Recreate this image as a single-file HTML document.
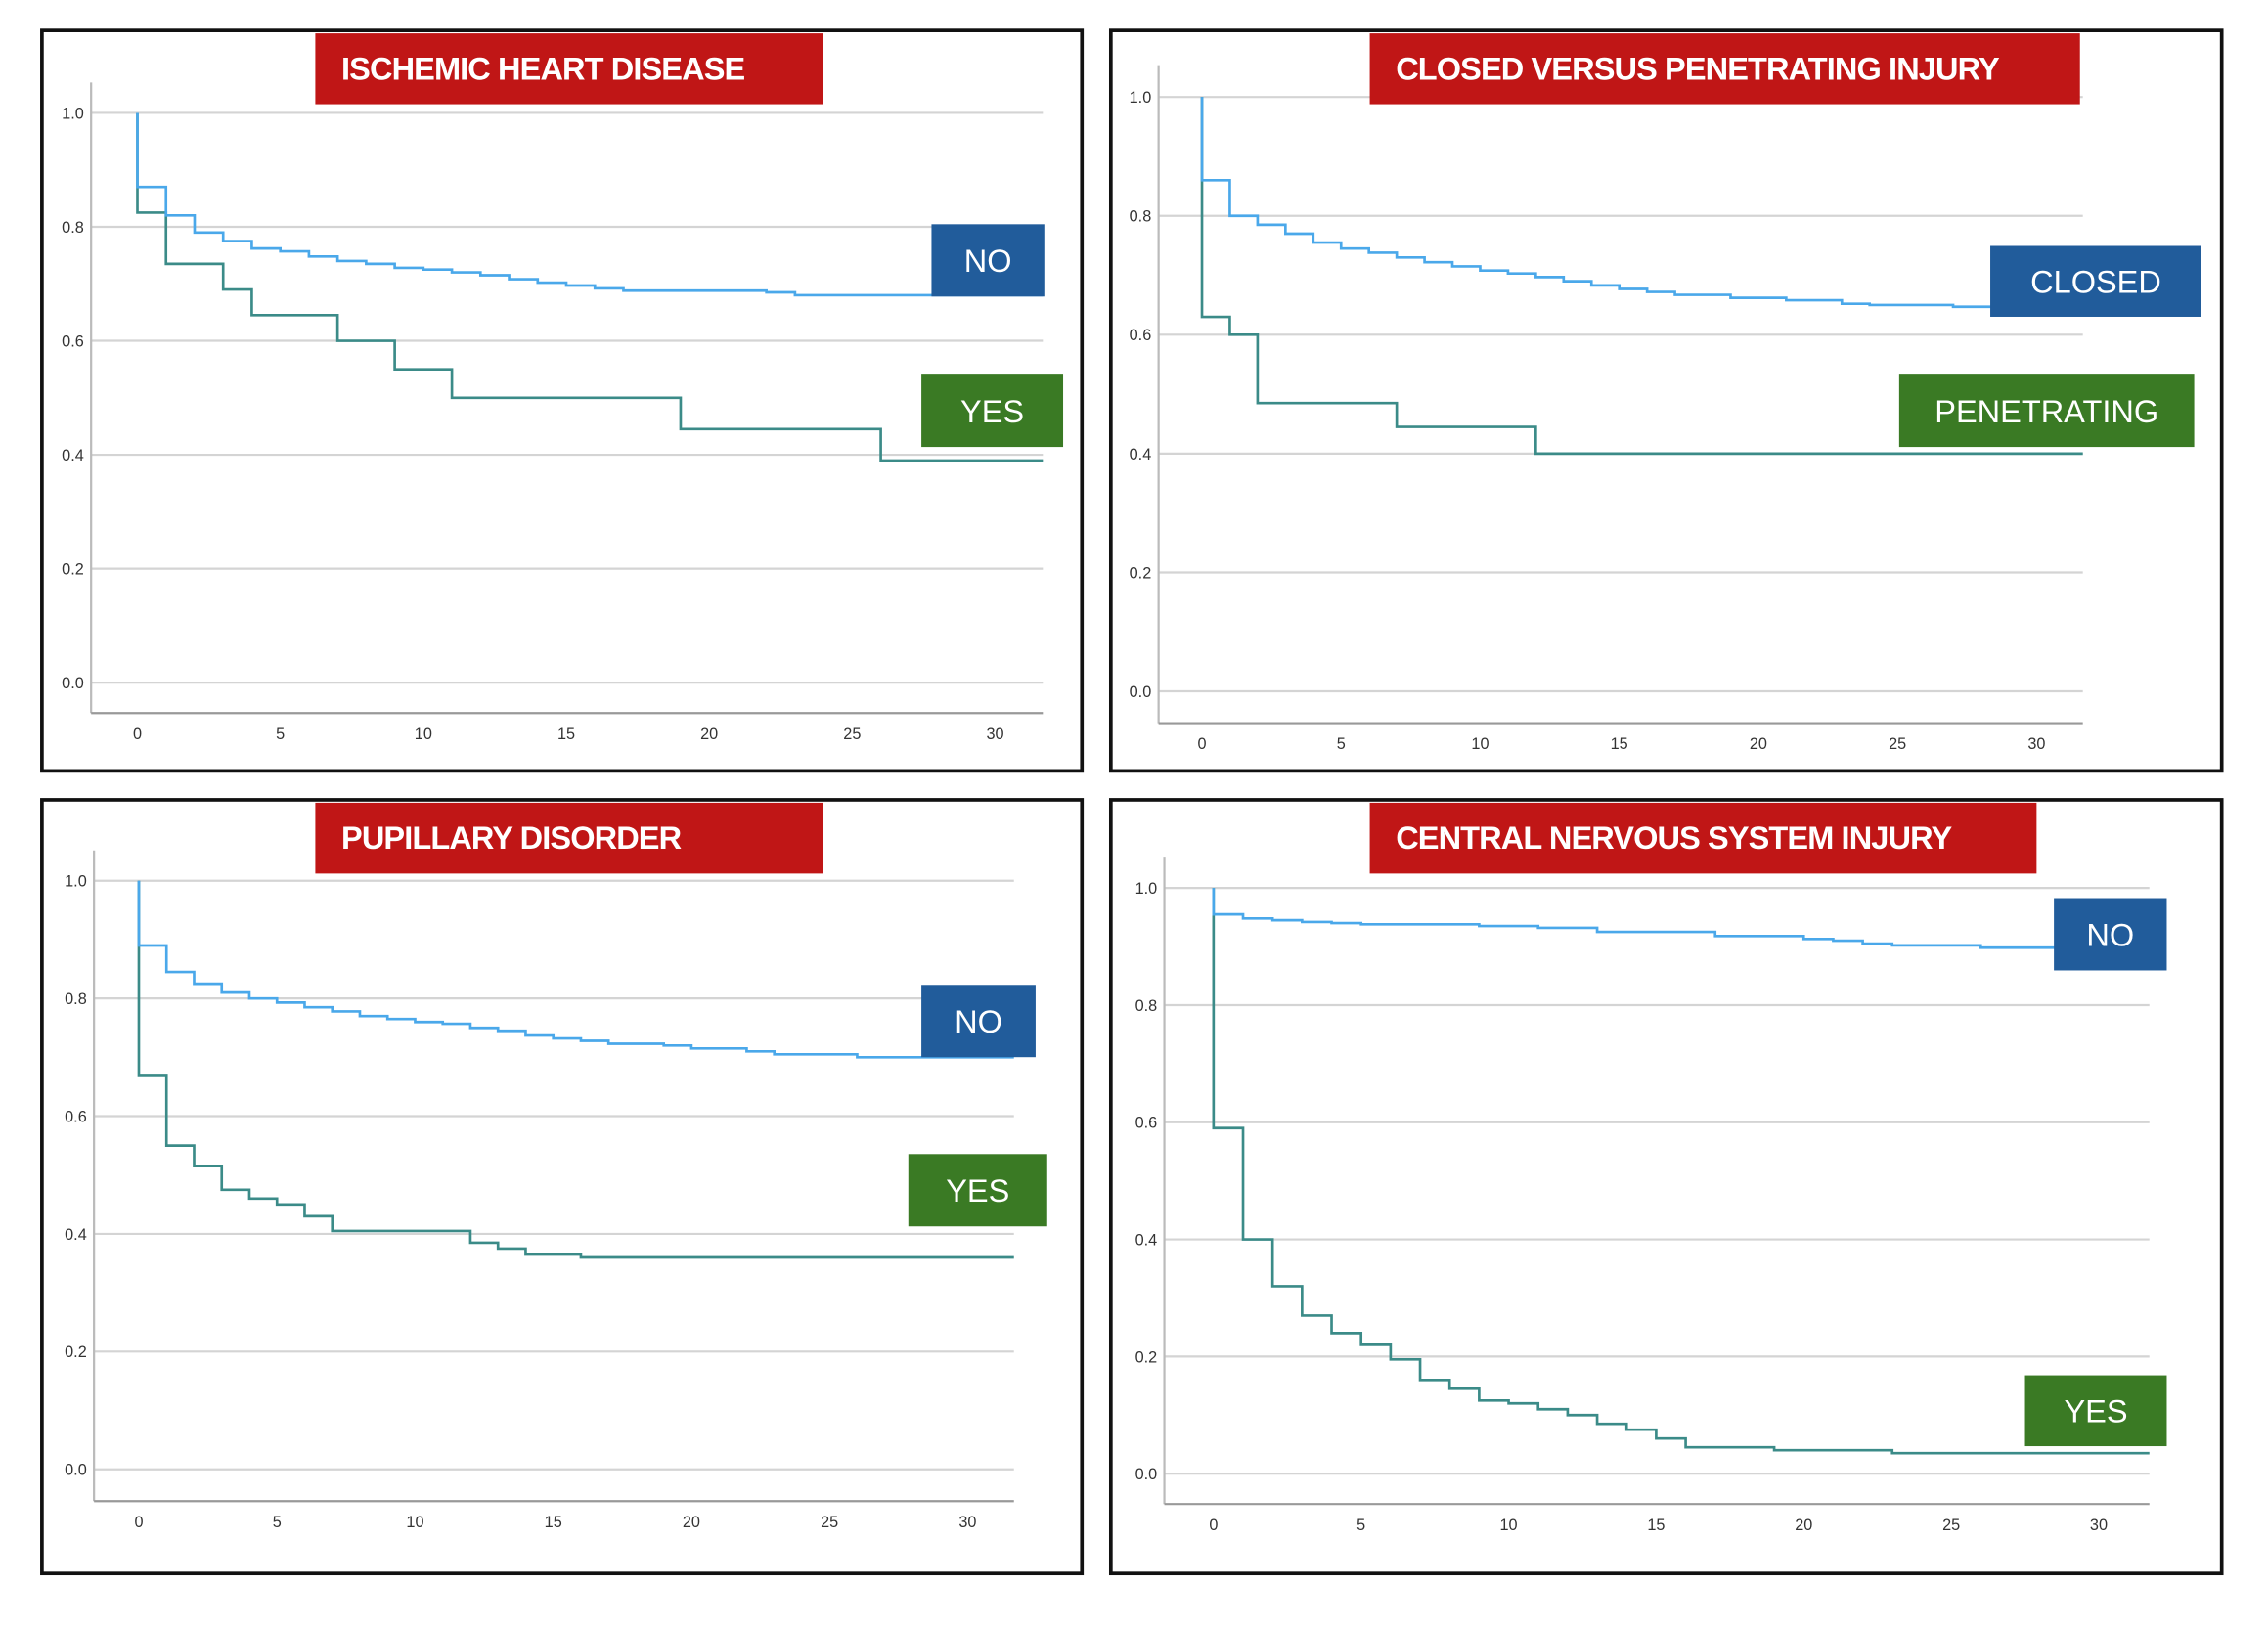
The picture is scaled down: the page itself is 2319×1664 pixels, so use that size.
<!DOCTYPE html>
<html><head><meta charset="utf-8"><style>
html,body{margin:0;padding:0;background:#fff}
svg{display:block}
text{font-family:"Liberation Sans",sans-serif}
</style></head><body>
<svg id="chart" width="2319" height="1664" viewBox="0 0 1568 1125" xmlns="http://www.w3.org/2000/svg"></svg>
<script>
// ---- data ----
const xTicks = [0,5,10,15,20,25,30];
const yTicks = [0.0,0.2,0.4,0.6,0.8,1.0];
const yTickLabels = ["0.0","0.2","0.4","0.6","0.8","1.0"];
const titles = ["ISCHEMIC HEART DISEASE","CLOSED VERSUS PENETRATING INJURY","PUPILLARY DISORDER","CENTRAL NERVOUS SYSTEM INJURY"];
const labelsA = ["NO","CLOSED","NO","NO"];
const labelsB = ["YES","PENETRATING","YES","YES"];
const p1NoT = [0,1,2,3,4,5,6,7,8,9,10,11,12,13,14,15,16,17,22,23];
const p1NoS = [0.87,0.82,0.79,0.775,0.762,0.757,0.748,0.74,0.735,0.728,0.725,0.72,0.715,0.708,0.702,0.697,0.692,0.688,0.685,0.68];
const p1YesT = [0,1,3,4,7,9,11,19,26];
const p1YesS = [0.825,0.735,0.69,0.645,0.6,0.55,0.5,0.445,0.39];
const p2NoT = [0,1,2,3,4,5,6,7,8,9,10,11,12,13,14,15,16,17,19,21,23,24,27];
const p2NoS = [0.86,0.80,0.785,0.77,0.755,0.745,0.738,0.73,0.722,0.715,0.708,0.703,0.697,0.69,0.683,0.677,0.672,0.667,0.662,0.658,0.652,0.65,0.647];
const p2YesT = [0,1,2,7,12];
const p2YesS = [0.63,0.6,0.485,0.445,0.40];
const p3NoT = [0,1,2,3,4,5,6,7,8,9,10,11,12,13,14,15,16,17,19,20,22,23,26];
const p3NoS = [0.89,0.845,0.825,0.81,0.8,0.793,0.785,0.778,0.77,0.765,0.76,0.757,0.75,0.745,0.737,0.732,0.728,0.723,0.72,0.715,0.71,0.705,0.70];
const p3YesT = [0,1,2,3,4,5,6,7,12,13,14,16];
const p3YesS = [0.67,0.55,0.515,0.475,0.46,0.45,0.43,0.405,0.385,0.375,0.365,0.36];
const p4NoT = [0,1,2,3,4,5,9,11,13,17,20,21,22,23,26];
const p4NoS = [0.955,0.948,0.945,0.942,0.94,0.938,0.935,0.932,0.925,0.918,0.913,0.91,0.905,0.902,0.898];
const p4YesT = [0,1,2,3,4,5,6,7,8,9,10,11,12,13,14,15,16,19,23];
const p4YesS = [0.59,0.4,0.32,0.27,0.24,0.22,0.195,0.16,0.145,0.125,0.12,0.11,0.1,0.085,0.075,0.06,0.045,0.04,0.035];
const seriesNoT=[p1NoT,p2NoT,p3NoT,p4NoT], seriesNoS=[p1NoS,p2NoS,p3NoS,p4NoS];
const seriesYesT=[p1YesT,p2YesT,p3YesT,p4YesT], seriesYesS=[p1YesS,p2YesS,p3YesS,p4YesS];

// ---- layout (display units) ----
const panels=[
 {fx:29,fy:21,fw:719,fh:512,tx:218,tw:351,ax:63,aTop:57,gEnd:721,y1:78,y0:472,xAxisY:493,x0:95,x30:688,
  a:[644,155,78,50],b:[637,259,98,50]},
 {fx:768,fy:21,fw:768,fh:512,tx:947,tw:491,ax:801,aTop:45,gEnd:1440,y1:67,y0:478,xAxisY:500,x0:831,x30:1408,
  a:[1376,170,146,49],b:[1313,259,204,50]},
 {fx:29,fy:553,fw:719,fh:535,tx:218,tw:351,ax:65,aTop:588,gEnd:701,y1:609,y0:1016,xAxisY:1038,x0:96,x30:669,
  a:[637,681,79,50],b:[628,798,96,50]},
 {fx:768,fy:553,fw:768,fh:535,tx:947,tw:461,ax:805,aTop:593,gEnd:1486,y1:614,y0:1019,xAxisY:1040,x0:839,x30:1451,
  a:[1420,621,78,50],b:[1400,951,98,49]}
];
const NS="http://www.w3.org/2000/svg";
const svg=document.getElementById('chart');
function mk(tag,attrs,parent){const e=document.createElementNS(NS,tag);for(const k in attrs)e.setAttribute(k,attrs[k]);(parent||svg).appendChild(e);return e;}

panels.forEach((p,i)=>{
  const g=mk('g',{});
  
  
  const X=t=>p.x0+(p.x30-p.x0)*t/30;
  const Y=s=>p.y0+(p.y1-p.y0)*s;
  const tEnd=(p.gEnd-p.x0)/((p.x30-p.x0)/30);
  const fr=mk('rect',{x:p.fx,y:p.fy,width:p.fw,height:p.fh,fill:'#fff',stroke:'#111','stroke-width':2.5},g);
  
  
  yTicks.forEach((v,j)=>{
    const gl=mk('line',{x1:p.ax,x2:p.gEnd,y1:Y(v),y2:Y(v),stroke:'#d4d4d4','stroke-width':1.5},g);
    
    
    const tl=mk('text',{x:p.ax-5,y:Y(v)+4,'font-size':11,'text-anchor':'end',fill:'#333'},g);
    tl.textContent=yTickLabels[j];
    
    
  });
  const ya=mk('line',{x1:p.ax,x2:p.ax,y1:p.aTop,y2:p.xAxisY,stroke:'#bbb','stroke-width':1.5},g);
  
  
  const xa=mk('line',{x1:p.ax,x2:p.gEnd,y1:p.xAxisY,y2:p.xAxisY,stroke:'#999','stroke-width':1.5},g);
  
  
  xTicks.forEach(v=>{
    const tl=mk('text',{x:X(v),y:p.xAxisY+18,'font-size':11,'text-anchor':'middle',fill:'#333'},g);
    tl.textContent=v;
    
    
  });
  function step(T,S,color,name){
    let d='M'+X(0)+','+Y(1);
    for(let k=0;k<T.length;k++){d+=' L'+X(T[k])+','+Y(k?S[k-1]:1)+' L'+X(T[k])+','+Y(S[k]);}
    d+=' L'+X(tEnd)+','+Y(S[S.length-1]);
    const pa=mk('path',{d:d,fill:'none',stroke:color,'stroke-width':1.8},g);
    
    
  }
  step(seriesYesT[i],seriesYesS[i],'#3b8b88','survival-line-yes');
  step(seriesNoT[i],seriesNoS[i],'#4aa8ea','survival-line-no');
  const tr=mk('rect',{x:p.tx,y:p.fy+2,width:p.tw,height:49,fill:'#c01616'},g);
  
  
  const tt=mk('text',{x:p.tx+18,y:p.fy+34,'font-size':22,'font-weight':'bold',fill:'#fff','letter-spacing':-0.6},g);
  tt.textContent=titles[i];
  
  
  [[p.a,labelsA[i],'#215c9b','legend-label-no'],[p.b,labelsB[i],'#3a7a24','legend-label-yes']].forEach(([r,txt,c,n])=>{
    const br=mk('rect',{x:r[0],y:r[1],width:r[2],height:r[3],fill:c},g);
    
    
    const bt=mk('text',{x:r[0]+r[2]/2,y:r[1]+r[3]/2+8,'font-size':22,'text-anchor':'middle',fill:'#fff'},g);
    bt.textContent=txt;
    
    
  });
});
</script>
</body></html>
